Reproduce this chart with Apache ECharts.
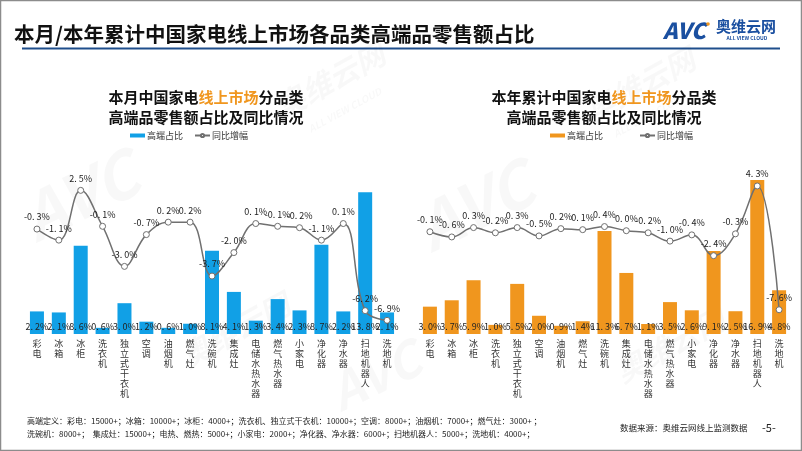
<!DOCTYPE html>
<html>
<head>
<meta charset="utf-8">
<script src="https://cdn.jsdelivr.net/npm/echarts@6/dist/echarts.min.js"></script>
<style>html,body{margin:0;padding:0;background:#fff}#c{width:802px;height:451px}</style>
</head>
<body>
<div id="c"></div>
<script>
const categories = ['彩电','冰箱','冰柜','洗衣机','独立式干衣机','空调','油烟机','燃气灶','洗碗机','集成灶','电储水热水器','燃气热水器','小家电','净化器','净水器','扫地机器人','洗地机'];
const monthShare = [2.2, 2.1, 8.6, 0.6, 3.0, 1.2, 0.6, 1.0, 8.1, 4.1, 1.3, 3.4, 2.3, 8.7, 2.2, 13.8, 2.1];
const monthYoY   = [-0.3, -1.1, 2.5, -0.1, -3.0, -0.7, 0.2, 0.2, -3.7, -2.0, 0.1, -0.1, -0.2, -1.1, 0.1, -6.2, -6.9];
const yearShare  = [3.0, 3.7, 5.9, 1.0, 5.5, 2.0, 0.9, 1.4, 11.3, 6.7, 1.1, 3.5, 2.6, 9.1, 2.5, 16.9, 4.8];
const yearYoY    = [-0.1, -0.6, 0.3, -0.2, 0.3, -0.5, 0.2, 0.1, 0.4, 0.0, -0.2, -1.0, -0.4, -2.4, -0.3, 4.3, -7.6];

const FONT = '"Noto Sans CJK SC", "Noto Sans", sans-serif';
const BLUE = '#11A0E6', ORANGE = '#F0961E', LINEC = '#707070';
const fmt = v => (v < 0 ? '-' : '') + Math.abs(v).toFixed(1).replace('.', '. ') + '%';

function xAxis(gi) {
  return {
    type: 'category', gridIndex: gi, data: categories,
    axisLine: { show: false }, axisTick: { show: false },
    axisLabel: { interval: 0, margin: 5, fontSize: 9, lineHeight: 10, color: '#333', fontFamily: FONT,
      formatter: s => s.split('').join('\n') }
  };
}
function barSeries(name, data, color, xi, yi) {
  return {
    name, type: 'bar', data, xAxisIndex: xi, yAxisIndex: yi, barWidth: 14,
    itemStyle: { color },
    label: { show: true, position: 'insideBottom', distance: 3, fontSize: 9, color: '#222', fontFamily: FONT, formatter: p => fmt(p.value) },
    z: 2
  };
}
function lineSeries(name, data, xi, yi) {
  return {
    name, type: 'line', data, xAxisIndex: xi, yAxisIndex: yi, smooth: 0.4,
    symbol: 'circle', symbolSize: 6,
    lineStyle: { color: LINEC, width: 1.5 },
    itemStyle: { color: '#fff', borderColor: LINEC, borderWidth: 1 },
    label: { show: true, position: 'top', distance: 4, fontSize: 9, color: '#222', fontFamily: FONT, formatter: p => fmt(p.value) },
    z: 5
  };
}
function wm(x, y, text, size, rot) {
  return { type: 'text', x, y, rotation: rot, z: 0, silent: true,
    style: { text, fill: 'rgba(0,0,0,0.028)', font: 'bold italic ' + size + 'px ' + FONT, align: 'center', verticalAlign: 'middle' } };
}

const chart = echarts.init(document.getElementById('c'));
chart.setOption({
  animation: false,
  backgroundColor: '#fff',
  title: [
    { text: '本月/本年累计中国家电线上市场各品类高端品零售额占比', left: 9, top: 19,
      textStyle: { fontSize: 20.5, fontWeight: 'bold', color: '#111', fontFamily: FONT } },
    { text: '本月中国家电{o|线上市场}分品类\n高端品零售额占比及同比情况', left: 201, top: 82, textAlign: 'center',
      textStyle: { fontSize: 15, fontWeight: 'bold', color: '#111', lineHeight: 20, fontFamily: FONT,
        rich: { o: { fontSize: 15, fontWeight: 'bold', color: ORANGE, fontFamily: FONT } } } },
    { text: '本年累计中国家电{o|线上市场}分品类\n高端品零售额占比及同比情况', left: 599, top: 82, textAlign: 'center',
      textStyle: { fontSize: 15, fontWeight: 'bold', color: '#111', lineHeight: 20, fontFamily: FONT,
        rich: { o: { fontSize: 15, fontWeight: 'bold', color: ORANGE, fontFamily: FONT } } } }
  ],
  legend: [
    { data: [{ name: '本月高端占比', icon: 'rect' }, '本月同比增幅'], left: 125, top: 126, itemWidth: 15, itemHeight: 4, itemGap: 11,
      textStyle: { fontSize: 9, color: '#333', fontFamily: FONT, padding: [0, 0, 0, -3] }, formatter: n => n.replace('本月', '') },
    { data: [{ name: '本年高端占比', icon: 'rect' }, '本年同比增幅'], left: 545, top: 126, itemWidth: 15, itemHeight: 4, itemGap: 36,
      textStyle: { fontSize: 9, color: '#333', fontFamily: FONT, padding: [0, 0, 0, -3] }, formatter: n => n.replace('本年', '') }
  ],
  grid: [
    { left: 26, right: 404, top: 180, bottom: 117 },
    { left: 419, right: 12, top: 180, bottom: 117 }
  ],
  xAxis: [xAxis(0), xAxis(0), xAxis(1), xAxis(1)].map((a, i) => i % 2 ? Object.assign(a, { show: false }) : a),
  yAxis: [
    { type: 'value', gridIndex: 0, min: 0, max: 15, show: false, splitLine: { show: false } },
    { type: 'value', gridIndex: 0, min: -7.89, max: 3.25, show: false, splitLine: { show: false } },
    { type: 'value', gridIndex: 1, min: 0, max: 16.9, show: false, splitLine: { show: false } },
    { type: 'value', gridIndex: 1, min: -9.93, max: 4.875, show: false, splitLine: { show: false } }
  ],
  series: [
    barSeries('本月高端占比', monthShare, BLUE, 0, 0),
    lineSeries('本月同比增幅', monthYoY, 1, 1),
    barSeries('本年高端占比', yearShare, ORANGE, 2, 2),
    lineSeries('本年同比增幅', yearYoY, 3, 3)
  ],
  graphic: [
    { type: 'rect', shape: { x: 0.5, y: 0.5, width: 801, height: 450 }, style: { fill: 'none', stroke: '#8c8c8c', lineWidth: 1.5 }, silent: true },
    { type: 'line', shape: { x1: 22, y1: 48.5, x2: 780, y2: 48.5 }, style: { stroke: '#1F4E8C', lineWidth: 2 }, silent: true },
    wm(80, 195, 'AVC', 64, 0.45), wm(330, 80, '奥维云网', 30, 0.5), wm(345, 110, 'ALL VIEW CLOUD', 10, 0.5),
    wm(475, 205, 'AVC', 64, 0.45), wm(640, 85, '奥维云网', 30, 0.5), wm(650, 115, 'ALL VIEW CLOUD', 10, 0.5),
    wm(235, 330, '奥维云网', 30, 0.5), wm(375, 375, 'AVC', 50, 0.45), wm(670, 345, '奥维云网', 30, 0.5),
    { type: 'text', x: 663, y: 31, style: { text: 'AVC', fill: '#1A4FA0', font: 'italic 900 22px ' + FONT, verticalAlign: 'middle' } },
    { type: 'circle', shape: { cx: 708, cy: 24, r: 1.8 }, style: { fill: '#F0961E' } },
    { type: 'text', x: 716, y: 26, style: { text: '奥维云网', fill: '#1A4FA0', font: 'bold 15px ' + FONT, verticalAlign: 'middle' } },
    { type: 'text', x: 747, y: 38, style: { text: 'ALL VIEW CLOUD', fill: '#1A4FA0', font: 'bold 5px ' + FONT, align: 'center', verticalAlign: 'middle' } },
    { type: 'text', x: 27, y: 421, style: { text: '高端定义：彩电：15000+；冰箱：10000+；冰柜：4000+；洗衣机、独立式干衣机：10000+；空调：8000+；油烟机：7000+；燃气灶：3000+ ；', fill: '#222', font: '8px ' + FONT, verticalAlign: 'middle' } },
    { type: 'text', x: 27, y: 434, style: { text: '洗碗机：8000+；  集成灶：15000+；电热、燃热：5000+；小家电：2000+；净化器、净水器：6000+；扫地机器人：5000+；洗地机：4000+；', fill: '#222', font: '8px ' + FONT, verticalAlign: 'middle' } },
    { type: 'text', x: 620, y: 428, style: { text: '数据来源：奥维云网线上监测数据', fill: '#222', font: '8.5px ' + FONT, verticalAlign: 'middle' } },
    { type: 'text', x: 762, y: 428, style: { text: '-5-', fill: '#222', font: '11px ' + FONT, verticalAlign: 'middle' } }
  ]
});
</script>
</body>
</html>
